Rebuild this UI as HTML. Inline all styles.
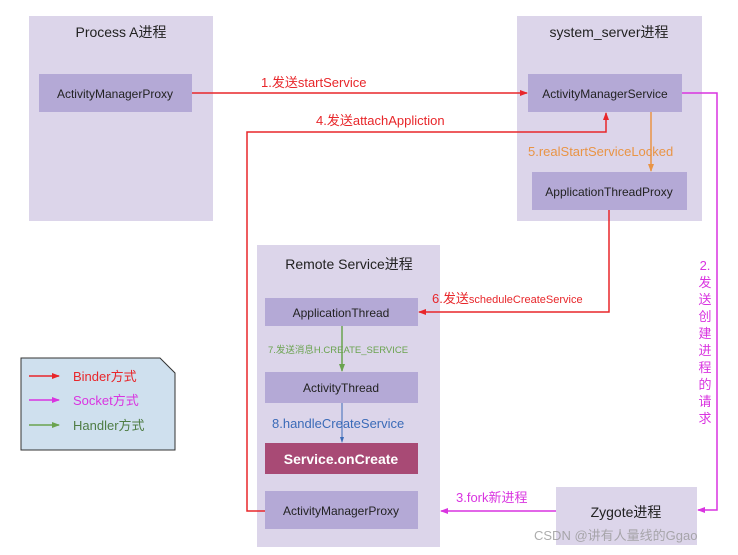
<!DOCTYPE html>
<html><head><meta charset="utf-8"><style>
html,body{margin:0;padding:0;background:#fff;}
svg{display:block;font-family:"Liberation Sans","Noto Sans CJK SC",sans-serif;}
</style></head><body>
<svg width="738" height="555" viewBox="0 0 738 555" xmlns="http://www.w3.org/2000/svg">
<defs>
<marker id="r" markerWidth="8" markerHeight="8" refX="7" refY="4" orient="auto" markerUnits="userSpaceOnUse"><path d="M0,1 L8,4 L0,7z" fill="#e8262a"/></marker>
<marker id="p" markerWidth="8" markerHeight="8" refX="7" refY="4" orient="auto" markerUnits="userSpaceOnUse"><path d="M0,1 L8,4 L0,7z" fill="#d934e0"/></marker>
<marker id="o" markerWidth="8" markerHeight="8" refX="7" refY="4" orient="auto" markerUnits="userSpaceOnUse"><path d="M0,1 L8,4 L0,7z" fill="#e99445"/></marker>
<marker id="g" markerWidth="8" markerHeight="8" refX="7" refY="4" orient="auto" markerUnits="userSpaceOnUse"><path d="M0,1 L8,4 L0,7z" fill="#6aa34f"/></marker>
<marker id="b" markerWidth="6" markerHeight="6" refX="5" refY="3" orient="auto" markerUnits="userSpaceOnUse"><path d="M0,1 L6,3 L0,5z" fill="#3b6bb8"/></marker>
</defs>
<!-- containers -->
<rect x="29" y="16" width="184" height="205" fill="#dcd5ea"/>
<rect x="517" y="16" width="185" height="205" fill="#dcd5ea"/>
<rect x="257" y="245" width="183" height="302" fill="#dcd5ea"/>
<rect x="556" y="487" width="141" height="58" fill="#dcd5ea"/>
<text x="121" y="37" font-size="14" text-anchor="middle" fill="#222">Process A进程</text>
<text x="609" y="37" font-size="14" text-anchor="middle" fill="#222">system_server进程</text>
<text x="349" y="269" font-size="14" text-anchor="middle" fill="#222">Remote Service进程</text>
<text x="626" y="517" font-size="14" text-anchor="middle" fill="#222">Zygote进程</text>
<!-- inner boxes -->
<g fill="#b4a9d6">
<rect x="39" y="74" width="153" height="38"/>
<rect x="528" y="74" width="154" height="38"/>
<rect x="532" y="172" width="155" height="38"/>
<rect x="265" y="298" width="153" height="28"/>
<rect x="265" y="372" width="153" height="31"/>
<rect x="265" y="491" width="153" height="38"/>
</g>
<rect x="265" y="443" width="153" height="31" fill="#a84a75"/>
<g font-size="12" text-anchor="middle" fill="#222">
<text x="115" y="98">ActivityManagerProxy</text>
<text x="605" y="98">ActivityManagerService</text>
<text x="609" y="196">ApplicationThreadProxy</text>
<text x="341" y="317">ApplicationThread</text>
<text x="341" y="392">ActivityThread</text>
<text x="341" y="515">ActivityManagerProxy</text>
</g>
<text x="341" y="464" font-size="14" font-weight="bold" text-anchor="middle" fill="#fff">Service.onCreate</text>
<!-- connectors -->
<g fill="none" stroke-width="1.5">
<path d="M192,93 H527" stroke="#e8262a" marker-end="url(#r)"/>
<path d="M265,511 H247 V132 H606 V113" stroke="#e8262a" marker-end="url(#r)"/>
<path d="M609,210 V312 H419" stroke="#e8262a" marker-end="url(#r)"/>
<path d="M682,93 H717 V510 H698" stroke="#d934e0" marker-end="url(#p)"/>
<path d="M556,511 H441" stroke="#d934e0" marker-end="url(#p)"/>
<path d="M651,112 V171" stroke="#e99445" marker-end="url(#o)"/>
<path d="M342,326 V371" stroke="#6aa34f" marker-end="url(#g)"/>
<path d="M342,403 V442" stroke="#3b6bb8" stroke-width="1" marker-end="url(#b)"/>
</g>
<g font-size="13">
<text x="261" y="87" fill="#e8262a">1.发送startService</text>
<text x="316" y="125" fill="#e8262a">4.发送attachAppliction</text>
<text x="528" y="156" fill="#e99445">5.realStartServiceLocked</text>
<text x="432" y="303" fill="#e8262a">6.发送<tspan font-size="11">scheduleCreateService</tspan></text>
<text x="456" y="502" fill="#d934e0">3.fork新进程</text>
<text x="272" y="428" fill="#3b6bb8">8.handleCreateService</text>
</g>
<text x="268" y="353" font-size="9.5" fill="#6aa34f">7.发送消息H.CREATE_SERVICE</text>
<g font-size="13" fill="#d934e0" text-anchor="middle">
<text x="705" y="270">2.</text><text x="705" y="287">发</text><text x="705" y="304">送</text><text x="705" y="321">创</text><text x="705" y="338">建</text><text x="705" y="355">进</text><text x="705" y="372">程</text><text x="705" y="389">的</text><text x="705" y="406">请</text><text x="705" y="423">求</text>
</g>
<!-- legend -->
<path d="M21,358 H160 L175,373 V450 H21 Z" fill="#cfe0ee" stroke="#333" stroke-width="1"/>
<g stroke-width="1.5">
<path d="M29,376 H59" stroke="#e8262a" marker-end="url(#r)"/>
<path d="M29,400 H59" stroke="#d934e0" marker-end="url(#p)"/>
<path d="M29,425 H59" stroke="#6aa34f" marker-end="url(#g)"/>
</g>
<g font-size="13">
<text x="73" y="381" fill="#e8262a">Binder方式</text>
<text x="73" y="405" fill="#d934e0">Socket方式</text>
<text x="73" y="430" fill="#4f7d45">Handler方式</text>
</g>
<text x="534" y="540" font-size="13" fill="#999" opacity="0.8">CSDN @讲有人量线的Ggao</text>
</svg>
</body></html>
